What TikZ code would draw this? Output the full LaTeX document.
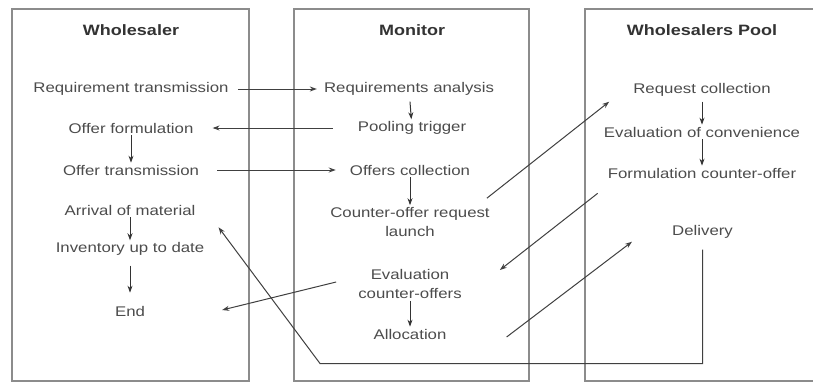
\documentclass[tikz,border=0pt]{standalone}
\usepackage{fontspec}
\setmainfont{Liberation Sans}[FakeStretch=1.2]
\usetikzlibrary{arrows.meta}

\begin{document}
\begin{tikzpicture}
[
x=1pt, y=-1pt,
>={Stealth[length=7pt,width=5pt]},
Lane/.style={draw=black!45, line width=1.6pt},
Title/.style={font=\fontsize{15}{18}\selectfont\bfseries, text=black!80},
Activity/.style={font=\fontsize{14}{19}\selectfont, text=black!70, align=center, inner xsep=3pt, inner ysep=2pt},
Flow/.style={->, draw=black!80, line width=1pt},
Link/.style={->, draw=black!75, line width=1pt},
]

\clip (0,0) rectangle (813,383);
\fill[white] (0,0) rectangle (813,383);

% lanes
\draw[Lane] ( 12,9) rectangle (249,381);
\draw[Lane] (294,9) rectangle (529,381);
\draw[Lane] (585,9) rectangle (830,381);

\node[Title] (whstitle)  at (131,30) {Wholesaler};
\node[Title] (montitle)  at (412,30) {Monitor};
\node[Title] (pooltitle) at (702,30) {Wholesalers Pool};

% Wholesaler
\node[Activity] (reqtx)   at (131, 89) {Requirement transmission};
\node[Activity] (offform) at (131,128) {Offer formulation};
\node[Activity] (offtx)   at (131,170) {Offer transmission};
\node[Activity] (arrival) at (130,210) {Arrival of material};
\node[Activity] (invent)  at (130,249) {Inventory up to date};
\node[Activity] (endn)    at (130,311) {End};

% Monitor
\node[Activity] (reqan)    at (409, 89) {Requirements analysis};
\node[Activity] (pooltrig) at (412,128) {Pooling trigger};
\node[Activity] (offcoll)  at (410,170) {Offers collection};
\node[Activity] (colaunch) at (410,222) {Counter-offer request\\launch};
\node[Activity] (evalco)   at (410,284) {Evaluation\\counter-offers};
\node[Activity] (alloc)    at (410,334) {Allocation};

% Wholesalers Pool
\node[Activity] (reqcoll)  at (702, 90) {Request collection};
\node[Activity] (evalconv) at (702,132) {Evaluation of convenience};
\node[Activity] (formco)   at (702,173) {Formulation counter-offer};
\node[Activity] (delivery) at (702.5,232) {Delivery};

\coordinate (loopturn) at (320,363.5);

\draw[Flow] (offform) -- (offtx);
\draw[Flow] (arrival) -- (invent);
\draw[Flow, shorten <=8pt, shorten >=11pt] (invent) -- (endn);
\draw[Flow, shorten <=4pt] (reqan) -- (pooltrig);
\draw[Flow] (offcoll) -- (colaunch);
\draw[Flow] (evalco) -- (alloc);
\draw[Flow, shorten <=3pt] (reqcoll) -- (evalconv);
\draw[Flow] (evalconv) -- (formco);

\draw[Link, shorten <=6pt, shorten >=4pt] (reqtx) -- (reqan);
\draw[Link, shorten <=22pt, shorten >=16pt] (pooltrig) -- (offform);
\draw[Link, shorten <=15pt, shorten >=11pt] (offtx) -- (offcoll);

\draw[Link] ([shift={(-6,-7)}]colaunch.north east) -- ([shift={(-21,3)}]reqcoll.south west);
\draw[Link] ([shift={(-7,13)}]formco.south west) -- ([shift={(35,-14)}]evalco.east);
\draw[Link] ([shift={(-19,-2)}]evalco.west) -- ([shift={(74,-1)}]endn.east);
\draw[Link] ([shift={(57,3)}]alloc.east) -- ([shift={(-37,1)}]delivery.south west);
\draw[Link] ([shift={(0,9)}]delivery.south) |- (loopturn) -- ([shift={(20,10)}]arrival.south east);

\end{tikzpicture}
\end{document}
